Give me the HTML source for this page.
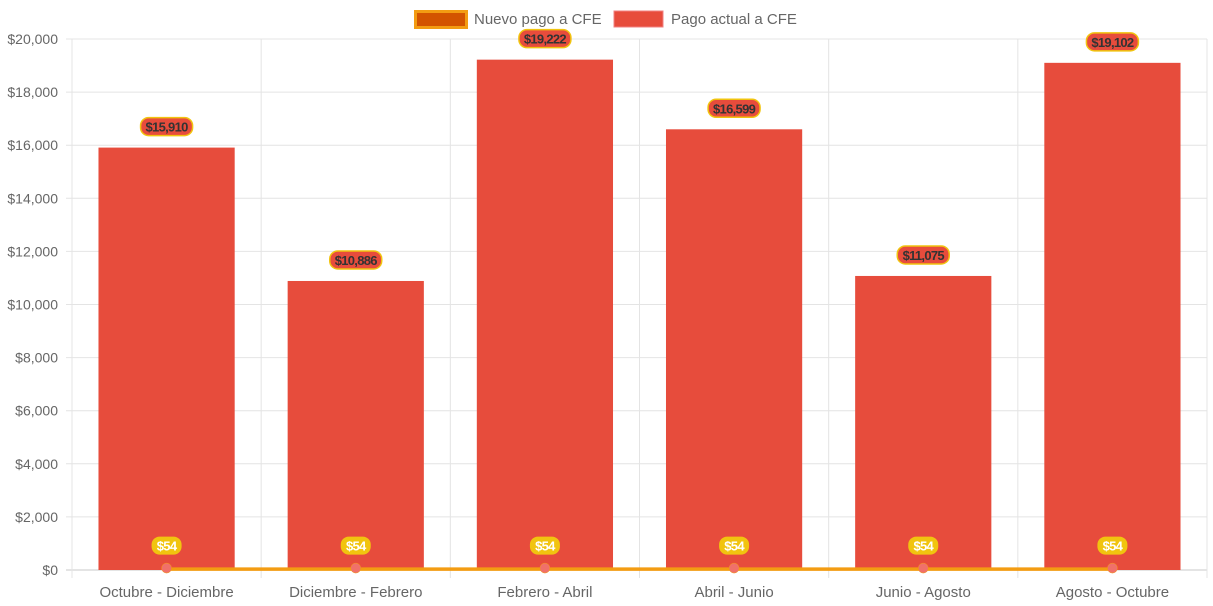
<!DOCTYPE html>
<html><head><meta charset="utf-8"><style>
html,body{margin:0;padding:0;background:#fff;}
svg{display:block;font-family:"Liberation Sans",Arial,sans-serif;}
</style></head><body>
<svg id="chart" width="1213" height="606" viewBox="0 0 1213 606"></svg>
<script>
const categories=["Octubre - Diciembre","Diciembre - Febrero","Febrero - Abril","Abril - Junio","Junio - Agosto","Agosto - Octubre"];
const actualValues=[15910,10886,19222,16599,11075,19102];
const newValues=[54,54,54,54,54,54];
const yTicks=[0,2000,4000,6000,8000,10000,12000,14000,16000,18000,20000];
const seriesNames=["Nuevo pago a CFE","Pago actual a CFE"];

const svg=document.getElementById('chart');
const NS='http://www.w3.org/2000/svg';
const L=72,R=1207,T=39,B=570,yMax=20000;
const band=(R-L)/categories.length;
const x=i=>L+band*(i+0.5);
const y=v=>B-(v/yMax)*(B-T);
const fmt=v=>'$'+v.toLocaleString('en-US');
function el(tag,attrs,parent){const e=document.createElementNS(NS,tag);for(const k in attrs)e.setAttribute(k,attrs[k]);(parent||svg).appendChild(e);return e;}

yTicks.forEach(t=>{
  const g=el('line',{x1:L-6,x2:R,y1:y(t),y2:y(t),stroke:t===0?'#c8c8c8':'#e4e4e4','stroke-width':1});
  
  
  const tx=el('text',{x:L-14,y:y(t)+5,'text-anchor':'end','font-size':14,fill:'#666'});
  tx.textContent=fmt(t);
  
  
});
for(let i=0;i<=categories.length;i++){
  const gx=L+band*i;
  const g=el('line',{x1:gx,x2:gx,y1:T,y2:B+8,stroke:'#e4e4e4','stroke-width':1});
  
  
}
categories.forEach((c,i)=>{
  const tx=el('text',{x:x(i),y:597,'text-anchor':'middle','font-size':15,fill:'#666'});
  tx.textContent=c;
  
  
});
const bw=band*0.72;
actualValues.forEach((v,i)=>{
  const r=el('rect',{x:x(i)-bw/2,y:y(v),width:bw,height:B-y(v),fill:'#e74c3c'});
  
  
  const lw=52,ly=y(v)-21;
  const p=el('rect',{x:x(i)-lw/2,y:ly-9,width:lw,height:18,rx:8,fill:'#e74c3c',stroke:'#f1c40f','stroke-width':1.5});
  
  
  const t=el('text',{x:x(i),y:ly+5,'text-anchor':'middle','font-size':13,'font-weight':'bold',fill:'#333','letter-spacing':'-0.7'});
  t.textContent=fmt(v);
  
  
});
const pts=newValues.map((v,i)=>x(i)+','+(y(v)+0.5)).join(' ');
const pl=el('polyline',{points:pts,fill:'none',stroke:'#f39c12','stroke-width':3.5});


newValues.forEach((v,i)=>{
  const c=el('circle',{cx:x(i),cy:y(v)-0.5,r:5,fill:'#f0706a',stroke:'#f39c12','stroke-width':0.5});
  
  
  const ly=y(v)-23;
  const p=el('rect',{x:x(i)-15,y:ly-9,width:30,height:18,rx:8,fill:'#f1c40f'});
  
  
  const t=el('text',{x:x(i),y:ly+5,'text-anchor':'middle','font-size':13,'font-weight':'bold',fill:'#fff','letter-spacing':'-0.7'});
  t.textContent=fmt(v);
  
  
});
const lg=el('g',{});


const b1=el('rect',{x:415.5,y:11.5,width:51,height:16,fill:'#d35400',stroke:'#f39c12','stroke-width':3},lg);


const t1=el('text',{x:474,y:24,'font-size':15,fill:'#666'},lg);
t1.textContent=seriesNames[0];


const b2=el('rect',{x:614,y:11,width:49,height:16,fill:'#e74c3c',stroke:'#f08080','stroke-width':1},lg);


const t2=el('text',{x:671,y:24,'font-size':15,fill:'#666'},lg);
t2.textContent=seriesNames[1];


</script>
</body></html>
